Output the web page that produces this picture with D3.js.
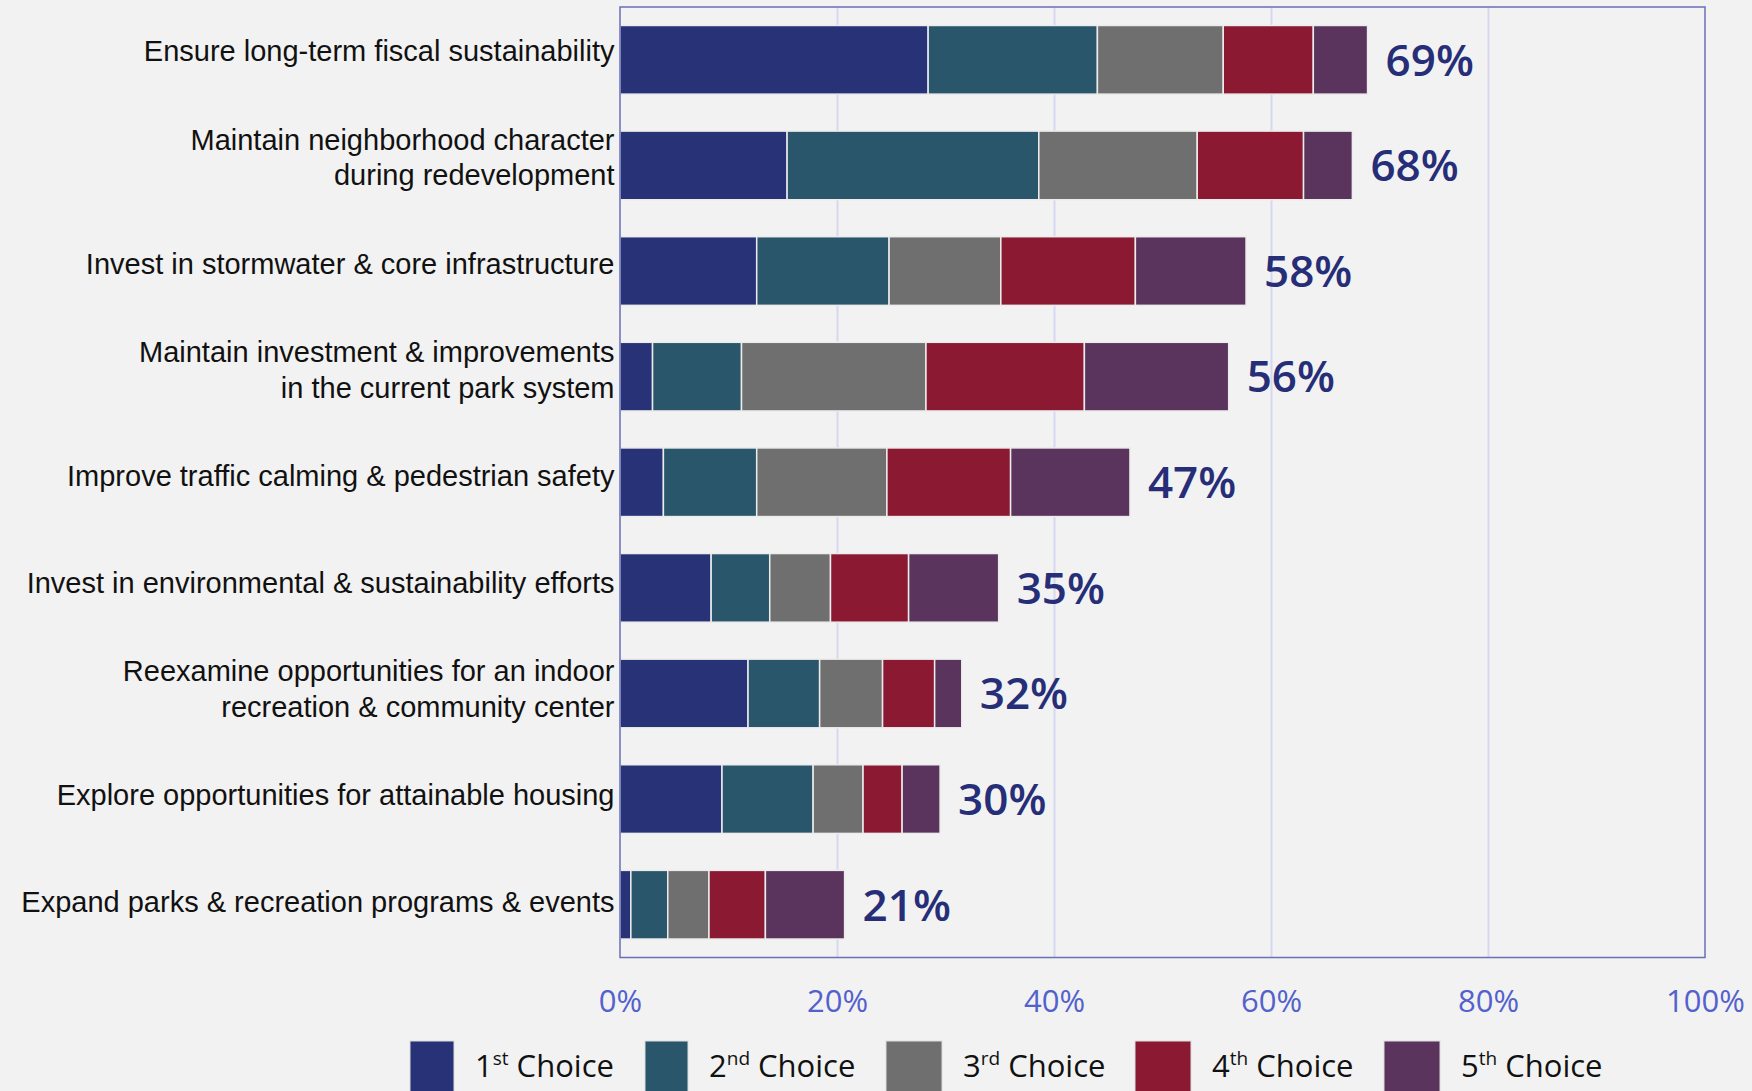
<!DOCTYPE html>
<html>
<head>
<meta charset="utf-8">
<script src="https://cdn.jsdelivr.net/npm/d3@7"></script>
<style>
  html, body { margin: 0; padding: 0; background: #f2f2f2; }
  svg { display: block; }
</style>
</head>
<body>
<svg id="chart" width="1752" height="1091"></svg>
<script>
// ---------------- DATA ----------------
const categories = [
  "Ensure long-term fiscal sustainability",
  "Maintain neighborhood character\nduring redevelopment",
  "Invest in stormwater & core infrastructure",
  "Maintain investment & improvements\nin the current park system",
  "Improve traffic calming & pedestrian safety",
  "Invest in environmental & sustainability efforts",
  "Reexamine opportunities for an indoor\nrecreation & community center",
  "Explore opportunities for attainable housing",
  "Expand parks & recreation programs & events"
];
const seriesNames = ["1st Choice", "2nd Choice", "3rd Choice", "4th Choice", "5th Choice"];
const seriesNum = ["1", "2", "3", "4", "5"];
const seriesSup = ["st", "nd", "rd", "th", "th"];
const choice1 = [28.4, 15.4, 12.6, 3.0, 4.0, 8.4, 11.8, 9.4, 1.0];
const choice2 = [15.6, 23.2, 12.2, 8.2, 8.6, 5.4, 6.6, 8.4, 3.4];
const choice3 = [11.6, 14.6, 10.3, 17.0, 12.0, 5.6, 5.8, 4.6, 3.8];
const choice4 = [8.3, 9.8, 12.4, 14.6, 11.4, 7.2, 4.8, 3.6, 5.2];
const choice5 = [5.0, 4.5, 10.2, 13.3, 11.0, 8.3, 2.5, 3.5, 7.3];
const totalLabels = ["69%", "68%", "58%", "56%", "47%", "35%", "32%", "30%", "21%"];
const xTicks = [0, 20, 40, 60, 80, 100];
const colors = ["#283276", "#29566b", "#6f6f6f", "#8c1932", "#5a345d"];

// ---------------- LAYOUT ----------------
(function () {
const svg = d3.select("#chart");
svg.append("rect").attr("width", 1752).attr("height", 1091).attr("fill", "#f2f2f2");

const pLeft = 620, pRight = 1705, pTop = 7, pBottom = 957.5;
const x = d3.scaleLinear().domain([0, 100]).range([pLeft, pRight]);
const y = d3.scaleBand().domain(categories).range([pTop, pBottom])
  .paddingInner(0.35).paddingOuter(0.175);
// category labels sit on a slightly shifted band
const yLab = d3.scaleBand().domain(categories).range([pTop - 9, pBottom - 3])
  .paddingInner(0.35).paddingOuter(0.175);

// gridlines
const grid = svg.append("g").attr("transform", `translate(0,${pBottom})`)
  .call(d3.axisBottom(x).tickValues(xTicks.slice(1, -1)).tickSize(-(pBottom - pTop)).tickFormat(""));
grid.select(".domain").remove();
grid.selectAll("line").attr("stroke", "#d5d8f0").attr("stroke-width", 2);

// stacked data
const seriesVals = [choice1, choice2, choice3, choice4, choice5];
const rows = categories.map((c, i) => {
  const o = { cat: c };
  seriesNames.forEach((s, j) => o[s] = seriesVals[j][i]);
  return o;
});
const stacked = d3.stack().keys(seriesNames)(rows);

svg.append("g").selectAll("g").data(stacked).join("g")
  .attr("fill", (d, i) => colors[i])
  .selectAll("rect").data(d => d).join("rect")
  .attr("x", d => x(d[0]))
  .attr("width", d => x(d[1]) - x(d[0]))
  .attr("y", d => y(d.data.cat))
  .attr("height", y.bandwidth())
  .attr("stroke", "#ececec")
  .attr("stroke-width", 1.5);

// plot border
svg.append("rect")
  .attr("x", pLeft).attr("y", pTop)
  .attr("width", pRight - pLeft).attr("height", pBottom - pTop)
  .attr("fill", "none").attr("stroke", "#6870b8").attr("stroke-width", 1.5);

// total labels
const last = stacked[stacked.length - 1];
svg.append("g").selectAll("text").data(last).join("text")
  .attr("x", d => x(d[1]) + 18)
  .attr("y", d => y(d.data.cat) + y.bandwidth() / 2)
  .attr("dy", "0.36em")
  .attr("font-family", "'Open Sans', sans-serif")
  .attr("font-weight", 600)
  .attr("font-size", 44)
  .attr("fill", "#262e78")
  .text((d, i) => totalLabels[i]);

// category labels
const catG = svg.append("g");
categories.forEach(c => {
  const lines = c.split("\n");
  const cy = yLab(c) + yLab.bandwidth() / 2;
  const lh = 35.8;
  const t = catG.append("text")
    .attr("x", 614.5)
    .attr("text-anchor", "end")
    .attr("font-family", "'Liberation Sans', Arial, sans-serif")
    .attr("font-size", 29)
    .attr("fill", "#111");
  lines.forEach((ln, k) => {
    t.append("tspan")
      .attr("x", 614.5)
      .attr("y", cy + (k - (lines.length - 1) / 2) * lh)
      .attr("dy", "0.35em")
      .text(ln);
  });
});

// x-axis tick labels
const xa = svg.append("g").attr("transform", `translate(0,${pBottom})`)
  .call(d3.axisBottom(x).tickValues(xTicks).tickSize(0).tickPadding(0).tickFormat(d => d + "%"));
xa.select(".domain").remove();
xa.selectAll("text")
  .attr("y", 1001 - pBottom)
  .attr("dy", "0.36em")
  .attr("font-family", "'Open Sans', sans-serif")
  .attr("font-size", 31)
  .attr("fill", "#5361cc");

// legend
const legX = [410, 645, 886, 1135, 1384];
const legW = [44, 43, 56, 56, 56];
const legG = svg.append("g");
seriesNames.forEach((s, i) => {
  legG.append("rect")
    .attr("x", legX[i]).attr("y", 1041)
    .attr("width", legW[i]).attr("height", 60)
    .attr("fill", colors[i]).attr("stroke", "#dcdcdc").attr("stroke-width", 1);
  const t = legG.append("text")
    .attr("x", legX[i] + legW[i] + 21)
    .attr("y", 1077)
    .attr("font-family", "'Open Sans', sans-serif")
    .attr("font-size", 31)
    .attr("fill", "#111");
  t.append("tspan").text(seriesNum[i]);
  t.append("tspan").attr("font-size", 19).attr("dy", -12).text(seriesSup[i]);
  t.append("tspan").attr("dy", 12).text(" Choice");
});
})();
</script>
</body>
</html>
